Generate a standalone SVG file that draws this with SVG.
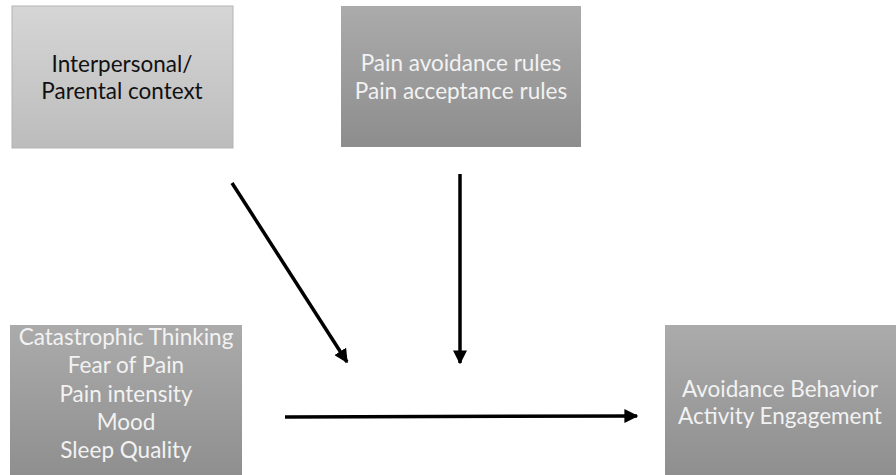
<svg xmlns="http://www.w3.org/2000/svg" width="896" height="475" viewBox="0 0 896 475">
<defs>
<linearGradient id="gLight" x1="0" y1="0" x2="0" y2="1">
<stop offset="0" stop-color="#d6d6d6"/>
<stop offset="1" stop-color="#bcbcbc"/>
</linearGradient>
<linearGradient id="gDark" x1="0" y1="0" x2="0" y2="1">
<stop offset="0" stop-color="#ababab"/>
<stop offset="1" stop-color="#8d8d8d"/>
</linearGradient>
<marker id="ah" viewBox="0 0 10 10" refX="9" refY="5" markerWidth="4" markerHeight="4" orient="auto" markerUnits="strokeWidth">
<path d="M0,0 L10,5 L0,10 Z" fill="#000"/>
</marker>
<style>
text{font-family:Lato,"Open Sans","Liberation Sans",sans-serif;font-size:22.5px;text-anchor:middle}
.dk{fill:#111}
.lt{fill:#f2f2f2}
.conn line{stroke:#000;stroke-width:3.5;marker-end:url(#ah)}
</style>
</defs>
<rect width="896" height="475" fill="#fff"/>
<g id="interpersonal">
<rect x="12" y="6" width="221" height="142" fill="url(#gLight)" stroke="#b4b4b4" stroke-width="1"/>
<text class="dk" x="122" y="72">Interpersonal/</text>
<text class="dk" x="122" y="99">Parental context</text>
</g>
<g id="rules">
<rect x="341" y="6" width="240" height="141" fill="url(#gDark)"/>
<text class="lt" x="461" y="71">Pain avoidance rules</text>
<text class="lt" x="461" y="99">Pain acceptance rules</text>
</g>
<g id="predictors">
<rect x="10" y="325" width="232" height="160" fill="url(#gDark)"/>
<text class="lt" x="126" y="345">Catastrophic Thinking</text>
<text class="lt" x="126" y="373">Fear of Pain</text>
<text class="lt" x="126" y="402">Pain intensity</text>
<text class="lt" x="126" y="430">Mood</text>
<text class="lt" x="126" y="458">Sleep Quality</text>
</g>
<g id="outcomes">
<rect x="665" y="325" width="240" height="160" fill="url(#gDark)"/>
<text class="lt" x="780" y="397">Avoidance Behavior</text>
<text class="lt" x="780" y="424">Activity Engagement</text>
</g>
<g class="conn" id="connectors">
<line x1="232" y1="183" x2="347" y2="362"/>
<line x1="460" y1="174" x2="460" y2="363"/>
<line x1="285" y1="417" x2="637" y2="416"/>
</g>
</svg>
